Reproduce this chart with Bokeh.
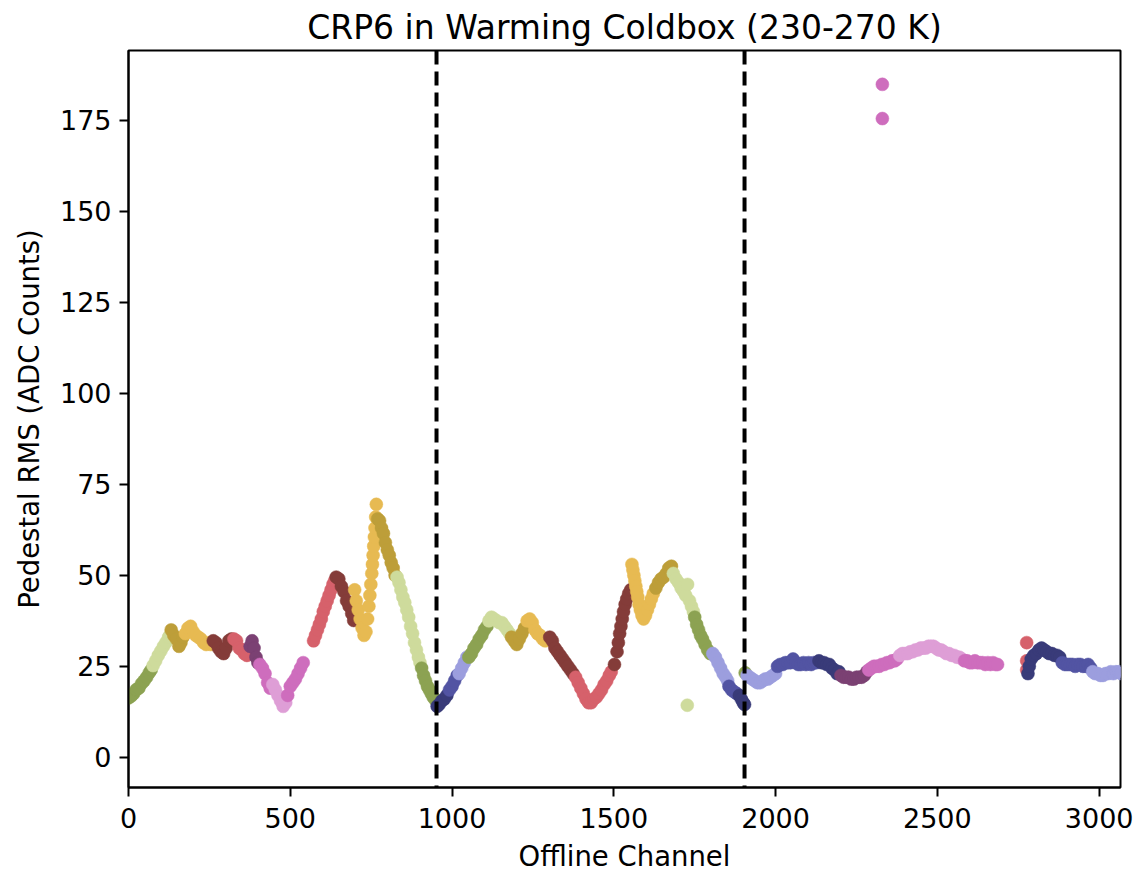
from bisect import bisect_right
from bokeh.plotting import figure
from bokeh.models import ColumnDataSource, Span, FixedTicker
from bokeh.embed import file_html
from bokeh.resources import INLINE

TITLE = "CRP6 in Warming Coldbox (230-270 K)"
X_LABEL = "Offline Channel"
Y_LABEL = "Pedestal RMS (ADC Counts)"

# tab20b palette
PALETTE = ["#393b79", "#5254a3", "#6b6ecf", "#9c9ede", "#637939", "#8ca252",
           "#b5cf6b", "#cedb9c", "#8c6d31", "#bd9e39", "#e7ba52", "#e7cb94",
           "#843c39", "#ad494a", "#d6616b", "#e7969c", "#7b4173", "#a55194",
           "#ce6dbd", "#de9ed6"]

# colour groups: first channel of each group and its palette index
group_start = [0, 72, 130, 170, 258, 322, 372, 404, 444, 490, 570, 640, 698, 768, 830, 904,
               952, 990, 1020, 1050, 1112, 1182, 1230, 1298, 1380, 1495, 1554, 1626, 1682, 1748, 1802, 1854, 1886,
               1905, 1910, 2004, 2130, 2200, 2286, 2380, 2580, 2770, 2779, 2882, 2978]
group_color = [5, 7, 9, 10, 12, 14, 16, 18, 19, 18, 14, 12, 10, 9, 7, 5,
               0, 1, 3, 5, 7, 9, 10, 12, 14, 12, 10, 9, 7, 5, 3, 1, 0,
               5, 3, 1, 0, 16, 18, 19, 18, 14, 0, 1, 3]

plane_boundaries = [952, 1904]
x_ticks = [0, 500, 1000, 1500, 2000, 2500, 3000]
y_ticks = [0, 25, 50, 75, 100, 125, 150, 175]

channel = [
    # plane 1
    0, 8, 16, 24, 32, 40, 48, 56, 64, 70,
    76, 84, 92, 100, 108, 116, 124, 128,
    132, 140, 148, 156, 162, 168,
    176, 184, 192, 200, 208, 216, 224, 232, 240, 248, 254,
    262, 270, 278, 286, 294, 302, 310, 318,
    326, 334, 342, 350, 358, 366,
    376, 382, 388, 394, 400,
    406, 414, 422, 430, 438,
    446, 454, 462, 470, 478, 486,
    492, 500, 508, 516, 524, 532, 540,
    572, 578, 584, 590, 596, 602, 608, 614, 620, 626, 632, 637,
    642, 650, 658, 666, 674, 682, 690, 696,
    699, 704, 710, 716, 722, 728, 734, 739, 743, 746, 749, 752, 754, 756, 758, 760, 762, 764, 766,
    770, 776, 782, 788, 794, 800, 806, 812, 818, 824,
    830, 836, 842, 848, 854, 860, 866, 872, 878, 884, 890, 896, 901,
    906, 912, 918, 924, 930, 936, 942, 948,
    # plane 2
    954, 960, 968, 976, 984,
    992, 1000, 1008, 1016,
    1022, 1030, 1038, 1046,
    1052, 1060, 1068, 1076, 1084, 1092, 1100, 1108,
    1114, 1122, 1130, 1138, 1146, 1154, 1162, 1170, 1178,
    1184, 1192, 1200, 1208, 1216, 1224,
    1232, 1240, 1248, 1256, 1264, 1272, 1280, 1288, 1294,
    1302, 1310, 1318, 1326, 1334, 1342, 1350, 1358, 1366, 1374,
    1382, 1390, 1398, 1406, 1414, 1422, 1430, 1438, 1446, 1454, 1462, 1470, 1478, 1486, 1492,
    1502, 1510, 1514, 1518, 1522, 1526, 1530, 1535, 1540, 1546, 1552,
    1556, 1559, 1562, 1565, 1568, 1571, 1574, 1578, 1582, 1587, 1592, 1598, 1604, 1610, 1616, 1622,
    1630, 1638, 1646, 1654, 1662, 1670, 1678,
    1684, 1692, 1700, 1708, 1716, 1722, 1727, 1728, 1734, 1740, 1746,
    1750, 1756, 1762, 1768, 1774, 1782, 1790, 1798,
    1806, 1814, 1822, 1830, 1838, 1846, 1852,
    1856, 1864, 1872, 1880,
    1888, 1894, 1900, 1904,
    # plane 3
    1906,
    1912, 1920, 1928, 1936, 1944, 1952, 1960, 1968, 1976, 1984, 1992, 2000,
    2006, 2014, 2022, 2030, 2038, 2046, 2054, 2062, 2070, 2078, 2086, 2094, 2102, 2110, 2118, 2126,
    2134, 2142, 2150, 2158, 2166, 2174, 2182, 2190, 2196,
    2202, 2210, 2218, 2226, 2234, 2242, 2250, 2258, 2266, 2274, 2282,
    2288, 2296, 2304, 2312, 2320, 2328, 2330, 2330, 2336, 2344, 2352, 2360, 2368, 2376,
    2384, 2392, 2400, 2408, 2416, 2424, 2432, 2440, 2448, 2456, 2464, 2472, 2480, 2488, 2496,
    2504, 2512, 2520, 2528, 2536, 2544, 2552, 2560, 2568, 2576,
    2584, 2592, 2600, 2608, 2616, 2624, 2632, 2640, 2648, 2656, 2664, 2672, 2680, 2686,
    2776, 2776, 2776,
    2780, 2784, 2790, 2798, 2806, 2814, 2822, 2830, 2838, 2846, 2854, 2862, 2870, 2878,
    2886, 2894, 2902, 2910, 2918, 2926, 2934, 2942, 2950, 2958, 2966, 2974,
    2980, 2988, 2996, 3004, 3012, 3020, 3028, 3036, 3044, 3052, 3060, 3068,
]

rms = [
    # plane 1
    16.3, 16.8, 17.5, 18.6, 19.0, 20.2, 21.0, 22.0, 23.2, 24.0,
    25.2, 26.5, 28.0, 29.2, 30.5, 31.6, 33.0, 33.5,
    35.0, 33.5, 32.5, 30.5, 31.5, 33.0,
    34.0, 35.5, 36.0, 34.5, 33.5, 33.0, 32.5, 31.5, 31.0, 31.5, 31.0,
    32.0, 31.5, 30.0, 29.0, 28.5, 30.0, 32.0, 32.5,
    32.5, 32.0, 30.0, 29.5, 28.5, 28.0,
    30.5, 32.0, 30.0, 27.5, 26.0,
    25.5, 24.5, 23.0, 20.5, 19.0,
    20.0, 18.5, 17.0, 15.5, 14.0, 15.0,
    17.0, 19.5, 20.5, 21.5, 23.0, 24.5, 26.0,
    32.0, 33.5, 35.0, 36.5, 38.0, 40.0, 41.5, 43.0, 44.5, 46.0, 47.5, 48.5,
    49.5, 49.0, 47.0, 45.5, 43.0, 41.5, 39.5, 37.6,
    46.0, 43.0, 40.5, 38.0, 35.5, 33.5, 34.5, 38.0, 41.5, 44.5, 47.5, 50.5, 53.0, 55.5, 58.0, 60.5, 63.0, 66.0, 69.5,
    65.5, 65.0, 63.0, 61.5, 59.0, 57.0, 55.5, 53.5, 52.0, 50.0,
    49.5, 48.0, 46.0, 44.0, 42.5, 40.5, 38.5, 36.0, 34.0, 31.5, 29.5, 27.5, 26.0,
    24.5, 22.5, 21.0, 19.5, 18.5, 17.5, 16.5, 15.8,
    # plane 2
    14.0, 14.5, 15.5, 16.0, 17.0,
    18.5, 19.5, 21.0, 22.5,
    23.0, 24.5, 26.0, 27.5,
    27.5, 28.5, 30.0, 31.0, 32.5, 33.5, 35.0, 36.0,
    37.5, 38.5, 38.0, 37.5, 37.0, 37.0, 36.0, 35.0, 34.0,
    33.0, 32.0, 31.0, 32.5, 34.0, 35.5,
    37.5, 38.0, 37.0, 35.0, 34.0, 33.5, 32.5, 32.0, 32.5,
    33.0, 32.0, 30.0, 29.0, 28.0, 27.0, 26.0, 25.0, 24.0, 23.0,
    22.0, 20.5, 19.0, 17.5, 16.0, 15.0, 15.0, 16.0, 16.5, 17.5, 18.5, 20.0, 21.0, 22.5, 23.5,
    25.5, 29.0, 31.5, 34.0, 36.0, 38.0, 40.0, 42.0, 43.5, 45.0, 46.0,
    53.0, 51.5, 50.0, 48.5, 47.0, 45.5, 44.0, 42.0, 40.5, 39.0, 38.0, 39.0, 40.5, 42.0, 43.5, 45.0,
    46.5, 48.0, 49.0, 49.5, 50.5, 52.0, 52.5,
    50.5, 49.0, 48.0, 46.5, 45.5, 44.5, 14.3, 47.5, 43.0, 41.5, 40.0,
    38.5, 36.5, 35.0, 33.5, 32.5, 31.0, 29.5, 28.5,
    28.5, 27.5, 26.0, 24.5, 23.0, 22.0, 21.0,
    19.5, 18.5, 18.0, 17.5,
    17.0, 16.0, 15.0, 14.5,
    # plane 3
    23.2,
    22.5, 22.0, 21.5, 21.0, 20.5, 20.5, 21.0, 21.5, 21.5, 22.0, 22.5, 23.0,
    25.0, 25.5, 25.5, 26.0, 26.0, 26.0, 27.0, 26.0, 25.5, 25.5, 26.0, 25.5, 26.0, 25.5, 26.0, 26.0,
    26.5, 26.0, 26.0, 25.5, 25.5, 24.5, 24.0, 23.0, 23.5,
    22.5, 22.0, 22.0, 22.0, 21.5, 21.5, 22.0, 22.0, 22.0, 22.5, 23.5,
    24.0, 24.5, 25.0, 25.0, 25.0, 25.5, 184.9, 175.5, 25.5, 26.0, 26.0, 26.5, 26.5, 27.0,
    28.0, 28.5, 28.5, 28.5, 29.0, 29.0, 29.5, 29.5, 30.0, 30.0, 30.0, 30.5, 30.5, 30.5, 30.0,
    29.5, 29.5, 29.0, 28.5, 28.5, 28.0, 28.0, 27.5, 27.5, 27.0,
    26.5, 26.5, 26.0, 26.0, 26.5, 26.0, 26.0, 26.0, 25.5, 26.0, 25.5, 26.0, 25.5, 25.5,
    31.5, 26.5, 24.0,
    23.0, 25.0, 27.0, 28.0, 28.5, 29.5, 30.0, 29.5, 29.0, 28.5, 28.5, 28.0, 28.0, 27.5,
    26.0, 25.5, 25.5, 25.5, 25.5, 25.0, 25.5, 25.5, 25.0, 25.0, 25.5, 24.5,
    23.5, 23.0, 23.0, 22.5, 22.5, 23.0, 23.0, 23.5, 23.0, 23.5, 23.5, 23.0,
]

n = min(len(channel), len(rms))
colors = [PALETTE[group_color[bisect_right(group_start, c) - 1]] for c in channel[:n]]
source = ColumnDataSource(data=dict(channel=channel[:n], rms=rms[:n], color=colors))

FONT = "DejaVu Sans"

p = figure(width=1147, height=874, x_range=(0, 3066), y_range=(-8.3, 194.2),
           output_backend="svg", toolbar_location=None, title=TITLE,
           min_border_left=128, min_border_right=27, min_border_top=50, min_border_bottom=87)

p.title.text_font = FONT
p.title.text_font_size = "33px"
p.title.text_font_style = "normal"
p.title.text_color = "black"
p.title.align = "center"
p.title.standoff = 7

p.background_fill_color = "white"
p.border_fill_color = "white"
p.outline_line_color = "black"
p.outline_line_width = 2
p.outline_line_alpha = 1
p.grid.visible = False

for ax in (p.xaxis[0], p.yaxis[0]):
    ax.axis_line_color = "black"
    ax.axis_line_width = 2
    ax.major_tick_line_color = "black"
    ax.major_tick_line_width = 2
    ax.major_tick_out = 9
    ax.major_tick_in = 0
    ax.minor_tick_line_color = None
    ax.major_label_text_font = FONT
    ax.major_label_text_font_size = "27px"
    ax.major_label_text_color = "black"
    ax.axis_label_text_font = FONT
    ax.axis_label_text_font_size = "27.5px"
    ax.axis_label_text_font_style = "normal"
    ax.axis_label_text_color = "black"
    ax.major_label_standoff = 8

p.xaxis[0].ticker = FixedTicker(ticks=x_ticks)
p.yaxis[0].ticker = FixedTicker(ticks=y_ticks)
p.xaxis[0].axis_label = X_LABEL
p.yaxis[0].axis_label = Y_LABEL
p.xaxis[0].major_label_standoff = 11
p.xaxis[0].axis_label_standoff = 9
p.yaxis[0].axis_label_standoff = 12

p.scatter(x="channel", y="rms", source=source, size=13,
          fill_color="color", line_color="color", line_width=0.5, alpha=1.0)

for b in plane_boundaries:
    p.add_layout(Span(location=b, dimension="height", line_color="black",
                      line_width=4, line_dash="14 7"))

open("out.html", "w").write(file_html(p, INLINE))
